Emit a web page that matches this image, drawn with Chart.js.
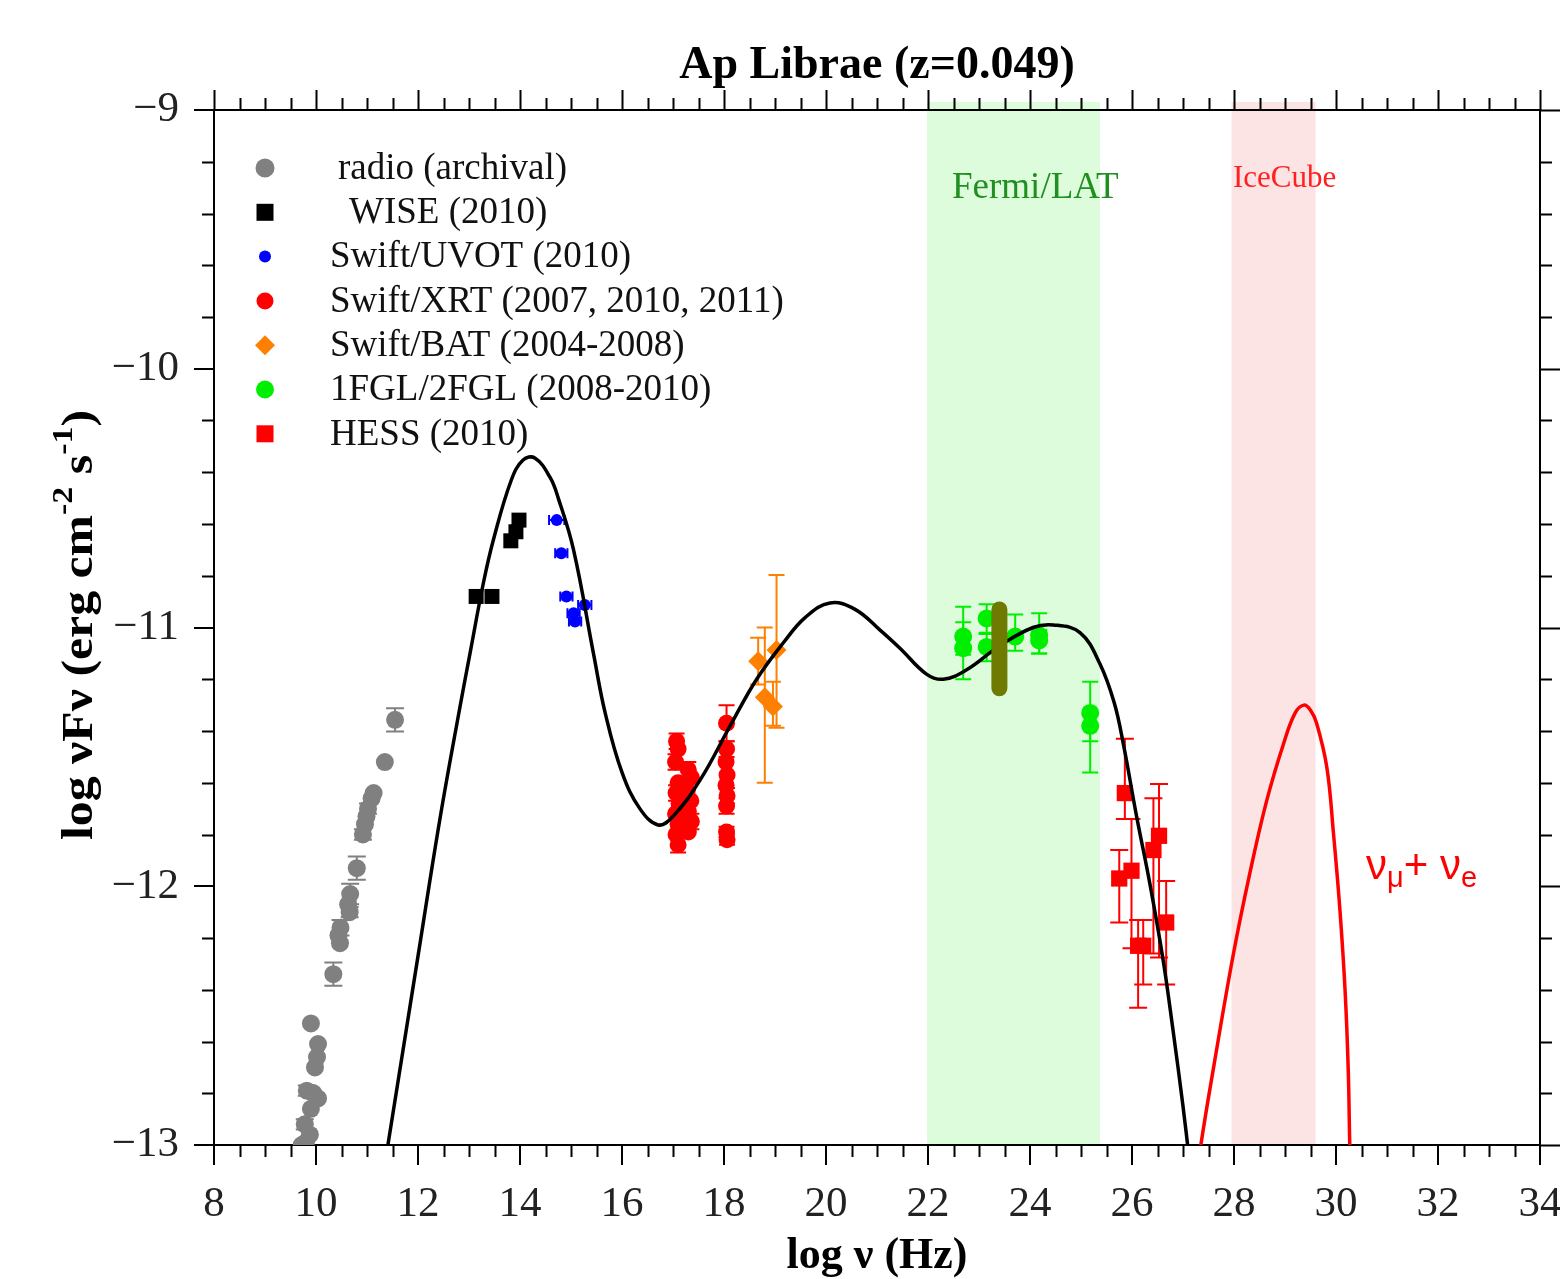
<!DOCTYPE html>
<html>
<head>
<meta charset="utf-8">
<title>Ap Librae SED</title>
<script src="https://cdn.jsdelivr.net/npm/chart.js@4.4.1/dist/chart.umd.min.js"></script>
<style>
  html, body { margin: 0; padding: 0; background: #fff; }
  #wrap { width: 1560px; height: 1279px; }
</style>
</head>
<body>
<div id="wrap"><canvas id="sed" width="1560" height="1279"></canvas></div>
<script>
// ---- data (log nu, log nuFnu) ----
// radio: [x, y, err]
const radioPts = [
  [11.55, -11.357, 0.045], [11.35, -11.52, 0], [11.13, -11.64, 0], [11.09, -11.66, 0],
  [11.02, -11.70, 0.02], [10.99, -11.73, 0], [10.96, -11.76, 0], [10.92, -11.80, 0.02],
  [10.80, -11.93, 0.045], [10.67, -12.03, 0.04], [10.63, -12.07, 0], [10.66, -12.10, 0.02],
  [10.48, -12.16, 0.03], [10.44, -12.19, 0], [10.47, -12.22, 0], [10.34, -12.34, 0.045],
  [9.90, -12.53, 0], [10.04, -12.61, 0], [10.02, -12.66, 0], [9.98, -12.70, 0],
  [9.82, -12.79, 0.02], [9.95, -12.80, 0], [10.04, -12.82, 0], [9.90, -12.86, 0],
  [9.78, -12.92, 0.02], [9.88, -12.96, 0], [9.80, -12.99, 0], [9.72, -13.0, 0]
];
// WISE: [x, y]
const wisePts = [[13.14, -10.88], [13.45, -10.88], [13.82, -10.665], [13.92, -10.63], [13.98, -10.585]];
// Swift/UVOT: [x, y, xerr]
const uvotPts = [
  [14.72, -10.585, 0.15], [14.81, -10.713, 0.12], [14.91, -10.88, 0.12],
  [15.27, -10.913, 0.13], [15.05, -10.945, 0.12], [15.08, -10.977, 0.12]
];
// Swift/XRT: [x, y, err]
const xrtPts = [
  [17.07, -11.44, 0.03], [17.10, -11.47, 0], [17.05, -11.52, 0.03], [17.10, -11.60, 0],
  [17.06, -11.64, 0.03], [17.12, -11.68, 0], [17.05, -11.72, 0], [17.10, -11.76, 0.03],
  [17.06, -11.80, 0], [17.10, -11.84, 0.03],
  [17.30, -11.55, 0.03], [17.36, -11.58, 0], [17.28, -11.63, 0.03], [17.35, -11.67, 0],
  [17.30, -11.71, 0], [17.36, -11.75, 0.03], [17.30, -11.79, 0],
  [18.05, -11.37, 0.07], [18.05, -11.47, 0.03], [18.04, -11.52, 0], [18.06, -11.57, 0],
  [18.04, -11.61, 0], [18.06, -11.65, 0.03], [18.05, -11.69, 0.03],
  [18.05, -11.79, 0.02], [18.06, -11.82, 0.02]
];
// Swift/BAT: [x, y, errUp, errDown]
const batPts = [[18.67, -11.13, 0.09, 0.09], [19.03, -11.087, 0.29, 0.30], [18.80, -11.27, 0.27, 0.33], [18.96, -11.305, 0.095, 0.075]];
// 1FGL/2FGL: [x, y, errUp, errDown]
const fermiPts = [
  [22.69, -11.035, 0.115, 0.07], [22.69, -11.08, 0.10, 0.12],
  [23.15, -10.965, 0.055, 0.06], [23.15, -11.075, 0.055, 0.055],
  [23.71, -11.035, 0.085, 0.055],
  [24.18, -11.03, 0.085, 0.07], [24.18, -11.05, 0.04, 0.05],
  [25.18, -11.33, 0.12, 0.11], [25.18, -11.38, 0.06, 0.18]
];
// LAT spectral range bar
const latBar = [[23.40, -10.93], [23.40, -11.235]];
// HESS: [x, y, errUp, errDown]
const hessPts = [
  [25.86, -11.64, 0.21, 0.10], [25.75, -11.97, 0.11, 0.17], [25.99, -11.94, 0.20, 0.30],
  [26.12, -12.23, 0.10, 0.24], [26.22, -12.23, 0.10, 0.15], [26.42, -11.86, 0.20, 0.40],
  [26.53, -11.805, 0.20, 0.47], [26.67, -12.14, 0.16, 0.24]
];
// SED model curve
const modelX = [11.36, 11.41, 12.0, 12.43, 12.82, 13.02, 13.28, 13.48, 13.83, 14.06, 14.29, 14.59, 14.75, 15.05, 15.44, 15.67, 16.0, 16.35, 16.71, 17.0, 17.53, 18.12, 18.64, 19.16, 19.6, 20.08, 20.57, 21.06, 21.45, 21.97, 22.30, 22.75, 23.41, 24.06, 24.46, 24.98, 25.37, 25.65, 25.83, 26.09, 26.35, 26.61, 26.80, 27.0, 27.12];
const modelY = [-13.06, -13.0, -12.27, -11.74, -11.31, -11.10, -10.83, -10.66, -10.43, -10.353, -10.345, -10.42, -10.50, -10.70, -11.10, -11.33, -11.56, -11.70, -11.763, -11.73, -11.59, -11.38, -11.20, -11.06, -10.96, -10.905, -10.93, -11.01, -11.08, -11.18, -11.20, -11.164, -11.07, -11.0, -10.99, -11.02, -11.14, -11.29, -11.45, -11.73, -11.99, -12.285, -12.55, -12.85, -13.05];
// neutrino (nu_mu + nu_e) curve
const nuX = [27.33, 27.35, 27.60, 27.99, 28.31, 28.64, 28.97, 29.2, 29.37, 29.5, 29.62, 29.82, 29.95, 30.08, 30.18, 30.24, 30.27, 30.28];
const nuY = [-13.05, -13.0, -12.70, -12.26, -11.95, -11.67, -11.45, -11.33, -11.30, -11.32, -11.37, -11.54, -11.795, -12.10, -12.41, -12.71, -13.0, -13.05];
// shaded ranges
const fermiBand = [21.98, 25.37];
const iceBand = [27.95, 29.6];

const serif = 'Liberation Serif';
const toXY = (a) => a.map(p => ({ x: p[0], y: p[1] }));

// Legend entries (drawn by hand inside the plot)
const legendItems = [
  { label: 'radio (archival)', style: 'circle', r: 9.5, color: '#808080', dx: 8 },
  { label: 'WISE (2010)', style: 'rect', r: 8.5, color: '#000000', dx: 19 },
  { label: 'Swift/UVOT (2010)', style: 'circle', r: 6, color: '#0000ff', dx: 0 },
  { label: 'Swift/XRT (2007, 2010, 2011)', style: 'circle', r: 8.5, color: '#ff0000', dx: 0 },
  { label: 'Swift/BAT (2004-2008)', style: 'rectRot', r: 10, color: '#ff8000', dx: 0 },
  { label: '1FGL/2FGL (2008-2010)', style: 'circle', r: 9, color: '#00ee00', dx: 0 },
  { label: 'HESS (2010)', style: 'rect', r: 8.5, color: '#ff0000', dx: 0 }
];

function drawMarker(ctx, style, x, y, r, color) {
  ctx.fillStyle = color;
  ctx.beginPath();
  if (style === 'circle') ctx.arc(x, y, r, 0, Math.PI * 2);
  else if (style === 'rect') ctx.rect(x - r, y - r, 2 * r, 2 * r);
  else { ctx.moveTo(x, y - r); ctx.lineTo(x + r, y); ctx.lineTo(x, y + r); ctx.lineTo(x - r, y); ctx.closePath(); }
  ctx.fill();
}

// bands + error bars, under the markers
const underlay = {
  id: 'underlay',
  beforeDatasetsDraw(chart) {
    const { ctx, chartArea, scales: { x, y } } = chart;
    ctx.save();
    ctx.fillStyle = '#dcfcdc';
    ctx.fillRect(x.getPixelForValue(fermiBand[0]), 102, x.getPixelForValue(fermiBand[1]) - x.getPixelForValue(fermiBand[0]), chartArea.bottom - 103);
    ctx.fillStyle = '#fde4e4';
    ctx.fillRect(x.getPixelForValue(iceBand[0]), 102, x.getPixelForValue(iceBand[1]) - x.getPixelForValue(iceBand[0]), chartArea.bottom - 103);

    chart.data.datasets.forEach(ds => {
      if (!ds.errKind) return;
      ctx.strokeStyle = ds.errColor;
      ctx.lineWidth = 2;
      const cap = ds.capHalf;
      ds.data.forEach(p => {
        const px = x.getPixelForValue(p.x), py = y.getPixelForValue(p.y);
        ctx.beginPath();
        if (ds.errKind === 'x') {
          if (!p.xe) return;
          const x1 = x.getPixelForValue(p.x - p.xe), x2 = x.getPixelForValue(p.x + p.xe);
          ctx.moveTo(x1, py); ctx.lineTo(x2, py);
          ctx.moveTo(x1, py - cap); ctx.lineTo(x1, py + cap);
          ctx.moveTo(x2, py - cap); ctx.lineTo(x2, py + cap);
        } else {
          if (!p.up && !p.dn) return;
          const y1 = y.getPixelForValue(p.y + p.up), y2 = y.getPixelForValue(p.y - p.dn);
          ctx.moveTo(px, y1); ctx.lineTo(px, y2);
          ctx.moveTo(px - cap, y1); ctx.lineTo(px + cap, y1);
          ctx.moveTo(px - cap, y2); ctx.lineTo(px + cap, y2);
        }
        ctx.stroke();
      });
    });
    ctx.restore();
  }
};

// frame ticks, labels, legend
const overlay = {
  id: 'overlay',
  afterDraw(chart) {
    const { ctx, chartArea: a, scales: { x, y } } = chart;
    ctx.save();
    ctx.strokeStyle = '#000';
    ctx.lineWidth = 2;
    ctx.beginPath();
    ctx.moveTo(a.left, a.top); ctx.lineTo(a.right, a.top);
    ctx.moveTo(a.right, a.top); ctx.lineTo(a.right, a.bottom);
    // x minor ticks every 0.5, top majors
    for (let i = 0; i <= 52; i++) {
      const v = 8 + i * 0.5;
      const px = Math.round(x.getPixelForValue(v)) + 0.5;
      const major = i % 4 === 0;
      if (!major) { ctx.moveTo(px, a.bottom); ctx.lineTo(px, a.bottom + 12); }
      ctx.moveTo(px, a.top); ctx.lineTo(px, a.top - (major ? 20 : 12));
    }
    // y minor ticks every 0.2, right majors
    for (let i = 0; i <= 20; i++) {
      const v = -13 + i * 0.2;
      const py = Math.round(y.getPixelForValue(v)) + 0.5;
      const major = i % 5 === 0;
      if (!major) { ctx.moveTo(a.left, py); ctx.lineTo(a.left - 12, py); }
      ctx.moveTo(a.right, py); ctx.lineTo(a.right + (major ? 20 : 12), py);
    }
    ctx.stroke();

    // title
    ctx.fillStyle = '#000';
    ctx.font = 'bold 46px "' + serif + '"';
    ctx.textAlign = 'center';
    ctx.textBaseline = 'alphabetic';
    ctx.fillText('Ap Librae (z=0.049)', (a.left + a.right) / 2, 78);

    // y axis title with superscripts
    const parts = [
      ['log νFν (erg cm', 0], ['-2', 1], [' s', 0], ['-1', 1], [')', 0]
    ];
    const mainF = 'bold 44px "' + serif + '"', supF = 'bold 30px "' + serif + '"';
    let w = 0;
    parts.forEach(p => { ctx.font = p[1] ? supF : mainF; w += ctx.measureText(p[0]).width; });
    const stretch = 430 / w;
    ctx.save();
    ctx.translate(92, 625);
    ctx.rotate(-Math.PI / 2);
    ctx.scale(stretch, 1);
    ctx.textAlign = 'left';
    let cx = -w / 2;
    parts.forEach(p => {
      ctx.font = p[1] ? supF : mainF;
      ctx.fillText(p[0], cx, p[1] ? -20 : 0);
      cx += ctx.measureText(p[0]).width;
    });
    ctx.restore();

    // band labels
    ctx.textAlign = 'left';
    ctx.fillStyle = '#1f8f1f';
    ctx.font = '37px "' + serif + '"';
    ctx.fillText('Fermi/LAT', 952, 198);
    ctx.fillStyle = '#ff2020';
    ctx.font = '31px "' + serif + '"';
    ctx.fillText('IceCube', 1233, 187);

    // neutrino label
    ctx.fillStyle = '#ff0000';
    let nx = 1366;
    const nuParts = [['ν', 0], ['μ', 1], ['+ ', 0], ['ν', 0], ['e', 1]];
    nuParts.forEach(p => {
      ctx.font = p[1] ? '29px "Liberation Sans"' : '42px "Liberation Sans"';
      ctx.fillText(p[0], nx, p[1] ? 887 : 879);
      nx += ctx.measureText(p[0]).width;
    });

    // legend
    ctx.font = '37px "' + serif + '"';
    ctx.textBaseline = 'middle';
    legendItems.forEach((it, i) => {
      const ly = 168 + i * 44.3;
      drawMarker(ctx, it.style, 265, ly, it.r, it.color);
      ctx.fillStyle = '#111';
      ctx.fillText(it.label, 330 + it.dx, ly + 1);
    });
    ctx.restore();
  }
};

const minus = v => (v < 0 ? '\u2212' + Math.abs(v) : String(v));

new Chart(document.getElementById('sed'), {
  type: 'scatter',
  data: {
    datasets: [
      { label: 'LAT range', data: toXY(latBar), showLine: true, borderColor: '#6f7a00', borderWidth: 16, borderCapStyle: 'round', pointRadius: 0, order: 0 },
      { label: 'model', data: modelX.map((v, i) => ({ x: v, y: modelY[i] })), showLine: true, borderColor: '#000', borderWidth: 3.5, pointRadius: 0, tension: 0.4, order: 1 },
      { label: 'nu_mu + nu_e', data: nuX.map((v, i) => ({ x: v, y: nuY[i] })), showLine: true, borderColor: '#ff0000', borderWidth: 3.5, pointRadius: 0, tension: 0.4, order: 1 },
      { label: 'radio (archival)', data: radioPts.map(p => ({ x: p[0], y: p[1], up: p[2], dn: p[2] })), pointStyle: 'circle', pointRadius: 9, backgroundColor: '#808080', borderWidth: 0, errKind: 'y', errColor: '#808080', capHalf: 9, order: 2 },
      { label: 'WISE (2010)', data: toXY(wisePts), pointStyle: 'rect', pointRadius: 10.6, backgroundColor: '#000', borderWidth: 0, order: 2 },
      { label: 'Swift/UVOT (2010)', data: uvotPts.map(p => ({ x: p[0], y: p[1], xe: p[2] })), pointStyle: 'circle', pointRadius: 6, backgroundColor: '#0000ff', borderWidth: 0, errKind: 'x', errColor: '#0000ff', capHalf: 5, order: 2 },
      { label: 'Swift/XRT (2007, 2010, 2011)', data: xrtPts.map(p => ({ x: p[0], y: p[1], up: p[2], dn: p[2] })), pointStyle: 'circle', pointRadius: 8.5, backgroundColor: '#ff0000', borderWidth: 0, errKind: 'y', errColor: '#ff0000', capHalf: 8, order: 2 },
      { label: 'Swift/BAT (2004-2008)', data: batPts.map(p => ({ x: p[0], y: p[1], up: p[2], dn: p[3] })), pointStyle: 'rectRot', pointRadius: 10, backgroundColor: '#ff8000', borderWidth: 0, errKind: 'y', errColor: '#ff8000', capHalf: 8, order: 2 },
      { label: '1FGL/2FGL (2008-2010)', data: fermiPts.map(p => ({ x: p[0], y: p[1], up: p[2], dn: p[3] })), pointStyle: 'circle', pointRadius: 9, backgroundColor: '#00ee00', borderWidth: 0, errKind: 'y', errColor: '#00ee00', capHalf: 8, order: 2 },
      { label: 'HESS (2010)', data: hessPts.map(p => ({ x: p[0], y: p[1], up: p[2], dn: p[3] })), pointStyle: 'rect', pointRadius: 11.5, backgroundColor: '#ff0000', borderWidth: 0, errKind: 'y', errColor: '#ff0000', capHalf: 9, order: 2 }
    ]
  },
  options: {
    responsive: false,
    animation: false,
    events: [],
    layout: { padding: { top: 110, right: 20, left: 0, bottom: 0 } },
    plugins: { legend: { display: false }, title: { display: false }, tooltip: { enabled: false } },
    scales: {
      x: {
        type: 'linear', min: 8, max: 34,
        afterFit: s => { s.height = 134; s.paddingLeft = 0; s.paddingRight = 0; },
        ticks: { stepSize: 2, autoSkip: false, maxRotation: 0, color: '#222', padding: 14, font: { family: serif, size: 43 } },
        grid: { drawOnChartArea: false, tickLength: 20, color: '#000', lineWidth: 2 },
        border: { display: true, color: '#000', width: 2 },
        title: { display: true, text: 'log ν (Hz)', color: '#000', padding: 0, font: { family: serif, size: 44, weight: 'bold', lineHeight: 1 } }
      },
      y: {
        type: 'linear', min: -13, max: -9,
        afterFit: s => { s.width = 214; s.paddingTop = 0; s.paddingBottom = 0; },
        ticks: { stepSize: 1, autoSkip: false, color: '#222', padding: 15, font: { family: serif, size: 43 }, callback: minus },
        grid: { drawOnChartArea: false, tickLength: 20, color: '#000', lineWidth: 2 },
        border: { display: true, color: '#000', width: 2 }
      }
    }
  },
  plugins: [underlay, overlay]
});
</script>
</body>
</html>
